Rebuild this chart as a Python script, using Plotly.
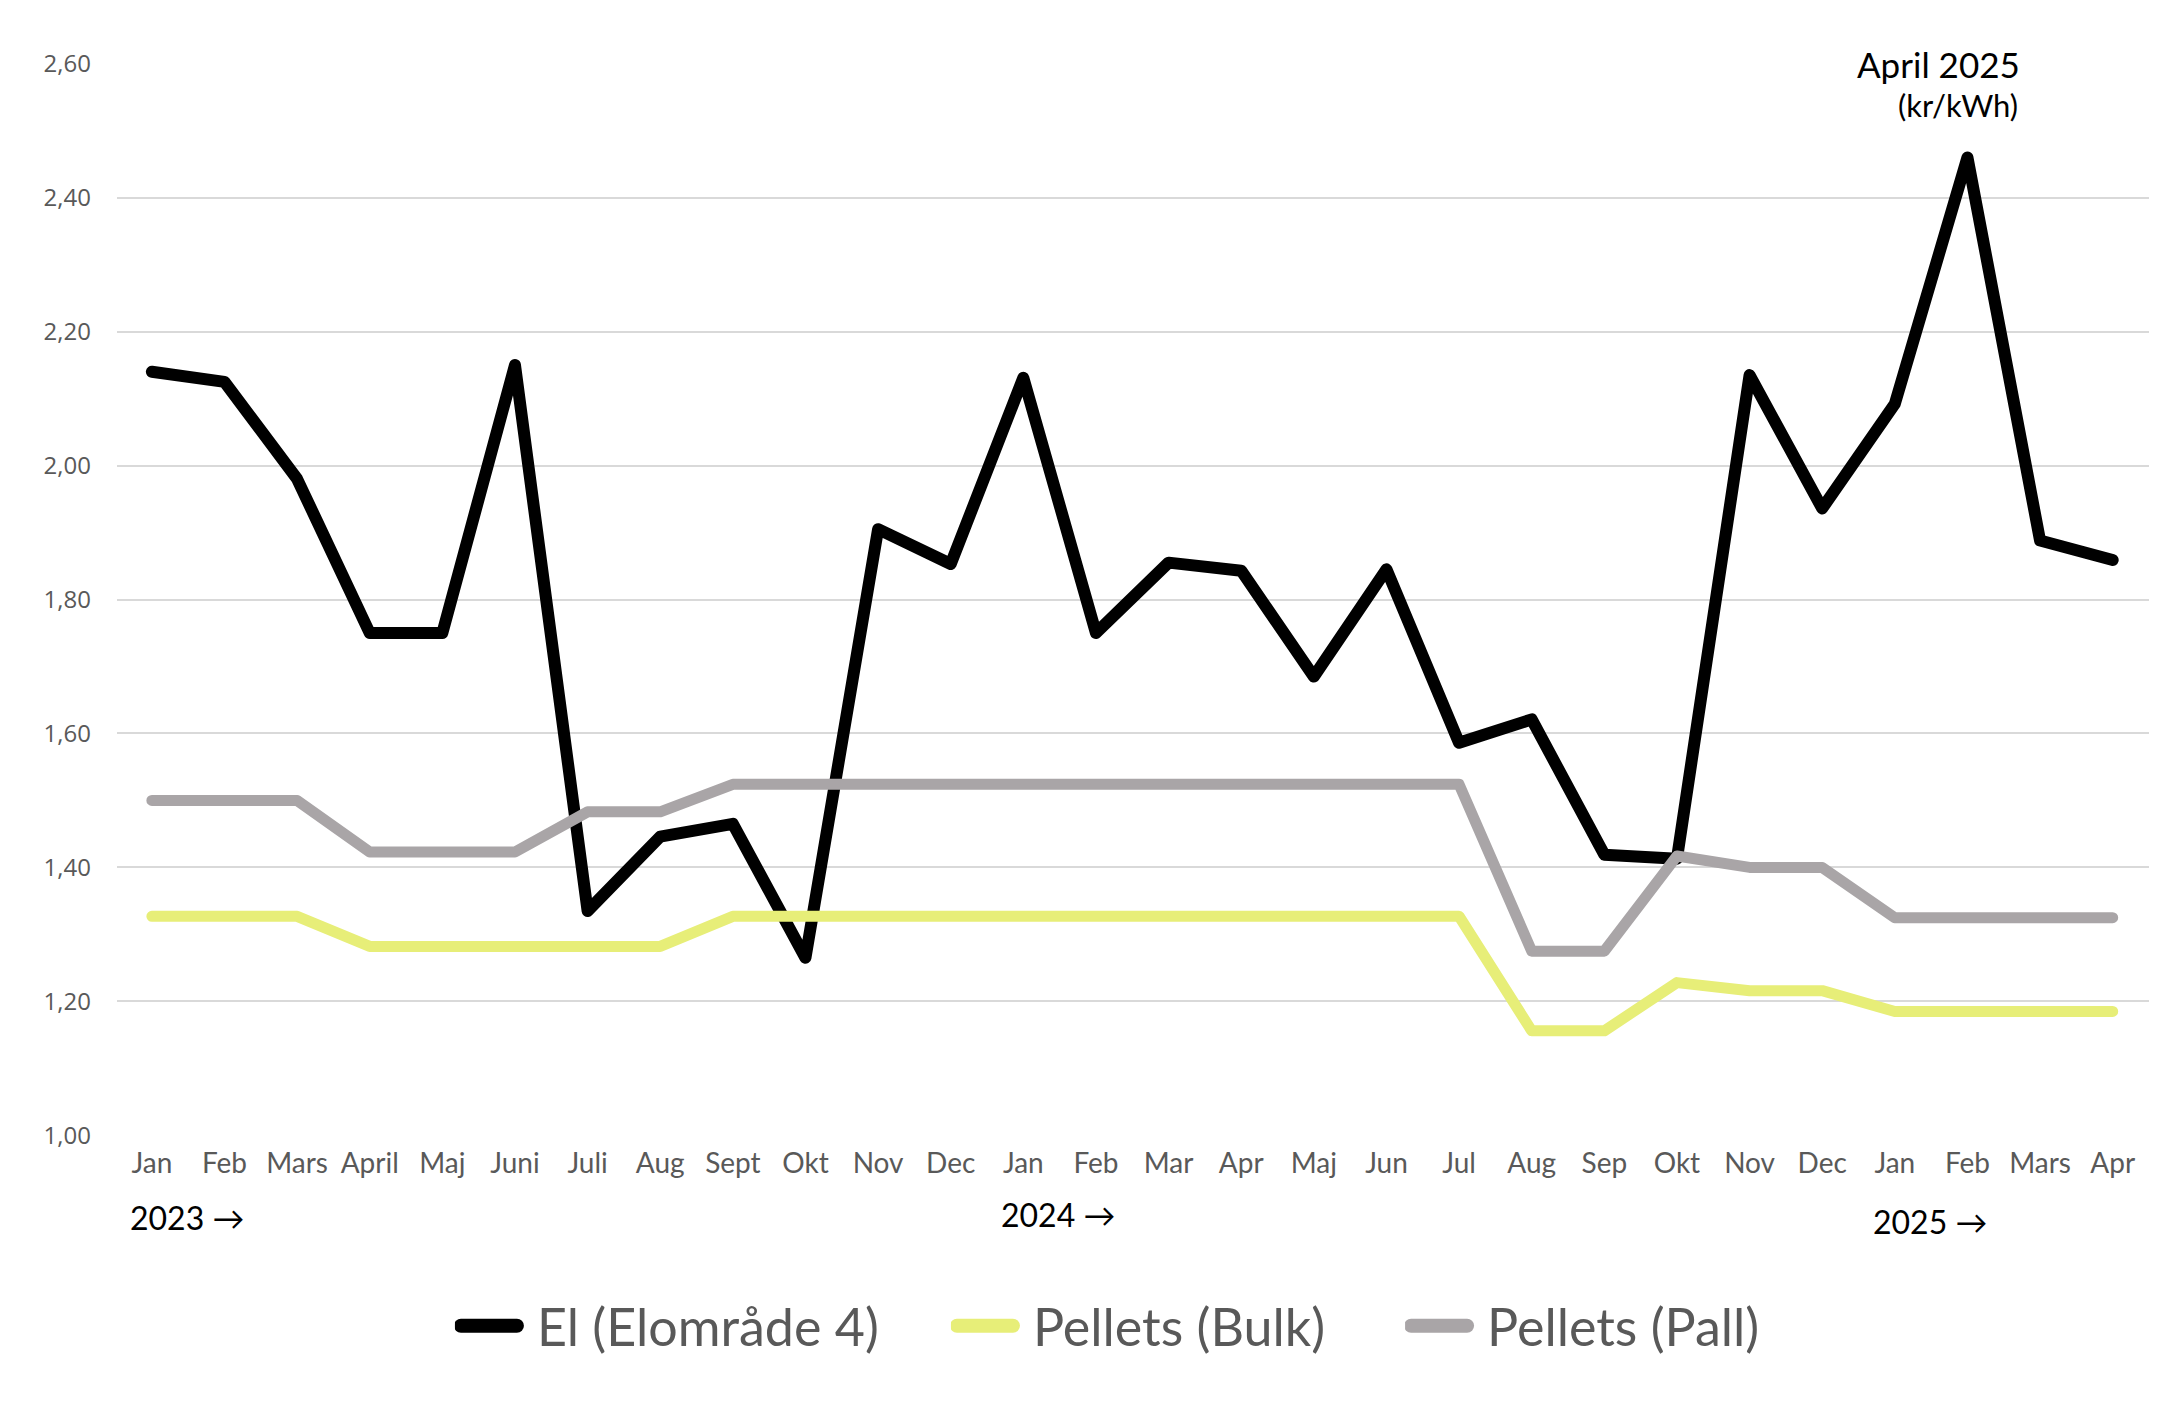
import plotly.graph_objects as go

# months Jan 2023 - Apr 2025
months = ["Jan", "Feb", "Mars", "April", "Maj", "Juni", "Juli", "Aug", "Sept", "Okt", "Nov", "Dec",
          "Jan", "Feb", "Mar", "Apr", "Maj", "Jun", "Jul", "Aug", "Sep", "Okt", "Nov", "Dec",
          "Jan", "Feb", "Mars", "Apr"]
x_idx = list(range(len(months)))

el = [2.14, 2.125, 1.98, 1.75, 1.75, 2.15, 1.335, 1.446, 1.465, 1.265, 1.905, 1.853,
      2.131, 1.75, 1.855, 1.843, 1.685, 1.845, 1.586, 1.621, 1.419, 1.413, 2.135, 1.936,
      2.092, 2.46, 1.888, 1.859]
bulk = [1.327, 1.327, 1.327, 1.282, 1.282, 1.282, 1.282, 1.282, 1.327, 1.327, 1.327, 1.327,
        1.327, 1.327, 1.327, 1.327, 1.327, 1.327, 1.327, 1.156, 1.156, 1.228, 1.216, 1.216,
        1.185, 1.185, 1.185, 1.185]
pall = [1.50, 1.50, 1.50, 1.423, 1.423, 1.423, 1.483, 1.483, 1.524, 1.524, 1.524, 1.524,
        1.524, 1.524, 1.524, 1.524, 1.524, 1.524, 1.524, 1.275, 1.275, 1.417, 1.40, 1.40,
        1.325, 1.325, 1.325, 1.325]

series_names = ["El (Elområde 4)", "Pellets (Bulk)", "Pellets (Pall)"]
series_colors = ["#000000", "#e7ee78", "#a9a5a7"]
years = ["2023 →", "2024 →", "2025 →"]
year_start = [0, 12, 24]
y_ticks = [1.0, 1.2, 1.4, 1.6, 1.8, 2.0, 2.2, 2.4, 2.6]

fig = go.Figure()
legend_ids = ["legend", "legend2", "legend3"]
widths = [12, 11, 11]
for vals, name, col, lg, w in zip([el, bulk, pall], series_names, series_colors, legend_ids, widths):
    fig.add_trace(go.Scatter(x=x_idx, y=vals, name=name, mode="lines", legend=lg,
                             line=dict(color=col, width=w)))

# year markers under the month labels
year_y = [-0.0764, -0.0736, -0.080]
for txt, xi, yy in zip(years, year_start, year_y):
    fig.add_annotation(x=xi, y=yy, xref="x", yref="paper", text=txt, showarrow=False,
                       xanchor="left", yanchor="middle", xshift=-24,
                       font=dict(family="Lato", size=32, color="#000000"))

fig.add_annotation(x=0.9375, y=0.999, xref="paper", yref="paper", text="April 2025",
                   showarrow=False, xanchor="right", yanchor="middle",
                   font=dict(family="Lato", size=35, color="#000000"))
fig.add_annotation(x=0.9365, y=0.961, xref="paper", yref="paper", text="(kr/kWh)",
                   showarrow=False, xanchor="right", yanchor="middle",
                   font=dict(family="Lato", size=31, color="#000000"))

legend_font = dict(family="Lato", size=52, color="#595959")
legend_x = [0.1663, 0.4104, 0.6339]
legends = {}
for lg, lx in zip(legend_ids, legend_x):
    legends[lg] = dict(orientation="h", x=lx, xanchor="left", y=-0.177, yanchor="middle",
                       font=legend_font, itemwidth=72, bgcolor="rgba(0,0,0,0)")

fig.update_layout(
    width=2152, height=1402,
    margin=dict(l=109, r=11, t=55, b=274),
    paper_bgcolor="white", plot_bgcolor="white",
    separators=", ",
    showlegend=True,
    xaxis=dict(range=[-0.48, 27.5], tickmode="array", tickvals=x_idx, ticktext=months,
               showgrid=False, zeroline=False, showline=False, ticks="",
               ticklabelstandoff=8,
               tickfont=dict(family="Lato", size=28, color="#595959")),
    yaxis=dict(range=[0.999, 2.601], tickmode="array", tickvals=y_ticks, tickformat=".2f",
               showgrid=True, gridcolor="#d9d9d9", gridwidth=2, zeroline=False,
               showline=False, ticks="", ticklabelstandoff=25,
               tickfont=dict(family="Open Sans", size=24, color="#595959")),
    **legends,
)

# round joins/caps like the original, thicker and shorter legend keys
js = """
document.querySelectorAll('.js-line').forEach(function(p){
  p.style.strokeLinejoin='round'; p.style.strokeLinecap='round';
});
document.querySelectorAll('.legendlines path').forEach(function(p){
  p.style.strokeWidth='14px';
  p.setAttribute('d','M6,0h56');
});
"""
fig.write_html("out.html", post_script=js)
